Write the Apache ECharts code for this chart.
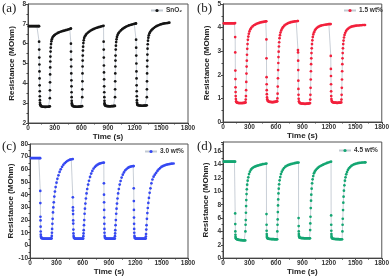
<!DOCTYPE html>
<html>
<head>
<meta charset="utf-8">
<script src="https://cdn.jsdelivr.net/npm/echarts@6/dist/echarts.min.js"></script>
<style>html,body{margin:0;padding:0;background:#fff}#c{width:392px;height:277px}</style>
</head>
<body>
<div id="c"></div>
<script>
// Series names (legend) and panel labels
var seriesNames = ['SnO\u2082', '1.5 wt%', '3.0 wt%', '4.5 wt%'];
var panelLabels = ['(a)', '(b)', '(c)', '(d)'];
var xTicks = [0, 300, 600, 900, 1200, 1500, 1800];
var yRanges = [[2, 8, 1], [0, 5, 1], [-10, 80, 10], [0, 17.4, 2]];

// (a) SnO2  [time s, resistance MOhm]
var sno2Data = [
[10,6.88],[20,6.88],[30,6.88],[40,6.88],[50,6.88],[60,6.88],[70,6.88],[80,6.88],[90,6.88],[100,6.88],[110,6.88],[120,6.88],[124,6.88],
[125,6.1],[126,5.7],[127,5.3],[128,4.95],[129,4.6],[130,4.25],[131,3.9],[132,3.6],[133,3.35],[134,3.15],[135,3.02],[137,2.94],[140,2.9],[145,2.86],[150,2.84],[160,2.83],[170,2.82],[180,2.82],[190,2.81],[200,2.81],[210,2.82],[220,2.82],[230,2.82],[240,2.83],[245,2.84],
[246,3.25],[247,3.65],[248,4.05],[249,4.45],[250,4.8],[251,5.1],[252,5.35],[254,5.6],[256,5.8],[259,5.98],[263,6.12],[268,6.22],[275,6.3],[285,6.37],[295,6.42],[305,6.46],[320,6.5],[335,6.54],[350,6.57],[365,6.6],[380,6.62],[395,6.64],[410,6.66],[425,6.68],[440,6.7],[455,6.72],[470,6.74],[481,6.76],
[482,6.76],[483,6.0],[484,5.6],[485,5.2],[486,4.85],[487,4.5],[488,4.15],[489,3.85],[490,3.55],[491,3.3],[492,3.12],[493,3.0],[495,2.93],[498,2.89],[503,2.86],[510,2.84],[520,2.83],[530,2.83],[540,2.82],[550,2.82],[560,2.82],[570,2.83],[580,2.83],[590,2.83],[600,2.84],[609,2.85],
[610,3.3],[611,3.7],[612,4.1],[613,4.5],[614,4.85],[615,5.15],[616,5.4],[618,5.65],[620,5.85],[623,6.03],[627,6.17],[632,6.28],[640,6.37],[650,6.44],[660,6.5],[675,6.56],[690,6.61],[705,6.66],[720,6.7],[735,6.73],[750,6.76],[765,6.79],[780,6.81],[795,6.83],[810,6.85],[825,6.87],[840,6.89],[850,6.9],
[851,6.1],[852,5.7],[853,5.3],[854,4.9],[855,4.55],[856,4.2],[857,3.85],[858,3.55],[859,3.3],[860,3.12],[861,3.0],[863,2.94],[866,2.9],[871,2.87],[878,2.86],[890,2.85],[900,2.85],[910,2.84],[920,2.84],[930,2.84],[940,2.85],[950,2.85],[960,2.85],[970,2.86],[978,2.86],
[979,3.3],[980,3.7],[981,4.1],[982,4.5],[983,4.85],[984,5.15],[985,5.4],[987,5.7],[989,5.9],[992,6.08],[996,6.22],[1001,6.34],[1008,6.44],[1018,6.53],[1030,6.6],[1045,6.67],[1060,6.73],[1075,6.78],[1090,6.82],[1105,6.86],[1120,6.89],[1135,6.92],[1150,6.94],[1165,6.96],[1180,6.98],[1195,7.0],[1210,7.01],[1215,7.02],
[1216,6.2],[1217,5.8],[1218,5.4],[1219,5.0],[1220,4.6],[1221,4.25],[1222,3.9],[1223,3.6],[1224,3.35],[1225,3.15],[1226,3.03],[1228,2.96],[1231,2.92],[1236,2.9],[1243,2.89],[1255,2.88],[1265,2.88],[1275,2.87],[1285,2.87],[1295,2.87],[1305,2.88],[1315,2.88],[1325,2.88],[1336,2.89],
[1337,3.3],[1338,3.7],[1339,4.1],[1340,4.5],[1341,4.85],[1342,5.15],[1343,5.45],[1345,5.75],[1347,5.97],[1350,6.15],[1354,6.3],[1359,6.42],[1366,6.52],[1375,6.6],[1387,6.67],[1400,6.73],[1415,6.79],[1430,6.84],[1445,6.88],[1460,6.91],[1475,6.94],[1490,6.97],[1505,6.99],[1520,7.01],[1535,7.02],[1550,7.03],[1565,7.04],[1580,7.05],[1590,7.06]
];

// (b) 1.5 wt%
var wt15Data = [
[10,4.18],[20,4.18],[30,4.18],[40,4.18],[50,4.18],[60,4.18],[70,4.18],[80,4.18],[90,4.18],[100,4.18],[110,4.18],[120,4.18],[130,4.18],[137,4.19],
[138,3.6],[139,2.95],[140,2.18],[141,1.82],[142,1.47],[143,1.27],[144,1.1],[146,0.97],[149,0.88],[153,0.84],[160,0.82],[170,0.81],[180,0.8],[190,0.8],[200,0.8],[210,0.8],[220,0.8],[230,0.81],[240,0.81],[250,0.82],[256,0.83],
[258,0.95],[260,1.1],[262,1.35],[264,1.7],[266,2.05],[268,2.35],[270,2.6],[272,2.85],[275,3.1],[278,3.3],[282,3.48],[287,3.62],[293,3.74],[300,3.84],[310,3.93],[320,3.99],[335,4.05],[350,4.1],[365,4.13],[380,4.16],[395,4.18],[410,4.2],[425,4.22],[440,4.23],[455,4.24],[470,4.25],[485,4.26],[491,4.27],
[492,3.5],[493,2.7],[494,1.9],[495,1.6],[496,1.35],[497,1.18],[499,1.04],[502,0.96],[506,0.91],[512,0.88],[520,0.86],[530,0.85],[540,0.85],[550,0.84],[560,0.84],[570,0.84],[580,0.85],[590,0.85],[600,0.86],[610,0.87],[615,0.88],
[617,1.0],[619,1.2],[621,1.5],[623,1.85],[625,2.2],[627,2.5],[629,2.75],[631,2.98],[634,3.2],[637,3.38],[641,3.55],[646,3.68],[652,3.79],[660,3.88],[670,3.96],[680,4.02],[695,4.08],[710,4.13],[725,4.16],[740,4.19],[755,4.21],[770,4.23],[785,4.24],[800,4.25],[815,4.26],[830,4.27],[845,4.28],[849,4.28],
[850,3.05],[851,2.95],[852,2.6],[853,2.2],[854,1.75],[855,1.4],[856,1.15],[858,0.98],[861,0.88],[865,0.83],[872,0.8],[880,0.79],[890,0.78],[900,0.78],[910,0.78],[920,0.77],[930,0.77],[940,0.77],[950,0.78],[960,0.78],[970,0.78],[980,0.79],[987,0.8],
[989,0.95],[991,1.15],[993,1.45],[995,1.8],[997,2.15],[999,2.45],[1001,2.7],[1003,2.92],[1006,3.12],[1009,3.3],[1013,3.46],[1018,3.6],[1024,3.71],[1032,3.8],[1042,3.88],[1052,3.94],[1065,3.99],[1080,4.03],[1095,4.06],[1110,4.08],[1125,4.1],[1140,4.11],[1155,4.12],[1170,4.13],[1185,4.14],[1200,4.15],[1210,4.15],[1221,4.15],
[1222,2.8],[1223,2.25],[1224,1.95],[1225,1.6],[1226,1.3],[1227,1.1],[1229,0.97],[1232,0.9],[1236,0.86],[1243,0.84],[1250,0.83],[1260,0.82],[1270,0.82],[1280,0.82],[1290,0.81],[1300,0.81],[1310,0.82],[1320,0.82],[1330,0.82],[1341,0.83],
[1343,0.95],[1345,1.15],[1347,1.45],[1349,1.8],[1351,2.15],[1353,2.45],[1355,2.7],[1357,2.92],[1360,3.12],[1363,3.3],[1367,3.45],[1372,3.58],[1378,3.69],[1386,3.78],[1396,3.86],[1408,3.92],[1420,3.96],[1435,4.0],[1450,4.03],[1465,4.05],[1480,4.06],[1495,4.07],[1510,4.08],[1525,4.09],[1540,4.09],[1555,4.1],[1570,4.1],[1585,4.11],[1600,4.11],[1610,4.11]
];

// (c) 3.0 wt%
var wt30Data = [
[10,68.9],[20,68.9],[30,68.9],[40,68.9],[50,68.9],[60,68.9],[70,68.9],[80,68.9],[90,68.9],[100,68.9],[110,68.9],[116,68.8],
[117,43],[118,33.4],[119,22.6],[120,19.7],[121,14.8],[122,11],[123,8.5],[125,7],[128,6.2],[133,5.7],[140,5.5],[150,5.4],[160,5.3],[170,5.3],[180,5.3],[190,5.3],[200,5.3],[210,5.3],[220,5.3],[230,5.3],[240,5.4],[246,5.5],
[248,7.5],[250,10],[252,13],[255,17],[258,21],[262,26],[266,30],[271,34],[277,38.5],[284,42.5],[292,46],[302,49.5],[312,52.5],[324,55.3],[337,58],[350,60],[365,62],[380,63.6],[395,64.8],[410,65.8],[425,66.6],[440,67.2],[455,67.6],[470,67.9],[487,68.1],
[488,37.9],[489,30],[490,27.5],[491,24.7],[492,19.7],[493,17.2],[494,12.5],[495,9.5],[497,7.5],[500,6.3],[505,5.7],[512,5.4],[520,5.3],[530,5.3],[540,5.3],[550,5.3],[560,5.3],[570,5.3],[580,5.3],[590,5.3],[600,5.3],[606,5.4],
[608,7.3],[610,9.5],[612,12],[615,16],[618,20],[622,25],[626,29],[631,33],[637,37],[644,41],[652,44.5],[662,48],[672,51],[684,54],[697,56.7],[710,58.8],[725,60.6],[740,61.9],[755,62.9],[770,63.7],[785,64.3],[800,64.7],[815,65],[830,65.2],[841,65.3],
[842,49],[843,40],[844,34],[845,28],[846,22],[847,17],[848,13],[849,10],[851,7.5],[854,6.3],[858,5.7],[864,5.4],[872,5.3],[880,5.3],[890,5.3],[900,5.3],[910,5.3],[920,5.3],[930,5.3],[940,5.3],[950,5.3],[960,5.3],[966,5.4],
[968,7.3],[970,9.5],[972,12],[975,16],[978,20],[982,25],[986,29],[991,33],[997,37],[1004,41],[1012,44.5],[1022,48],[1032,50.8],[1044,53.5],[1057,55.8],[1070,57.6],[1085,59.2],[1100,60.3],[1115,61.1],[1130,61.7],[1145,62.1],[1160,62.4],[1175,62.6],[1181,62.6],
[1182,45],[1183,35],[1184,28],[1185,22],[1186,17],[1187,13],[1188,10],[1190,7.5],[1193,6.3],[1197,5.7],[1203,5.4],[1210,5.3],[1220,5.3],[1230,5.3],[1240,5.3],[1250,5.3],[1260,5.3],[1270,5.3],[1280,5.3],[1290,5.3],[1300,5.3],[1310,5.3],[1318,5.4],
[1320,7],[1322,9],[1325,12.5],[1328,16],[1332,21],[1337,25.5],[1342,29.5],[1348,33.5],[1355,37.5],[1363,41.5],[1372,45],[1383,49],[1395,52],[1408,54.2],[1422,55.8],[1437,57.3],[1452,58.8],[1467,60],[1482,61],[1497,61.9],[1512,62.5],[1527,63],[1542,63.4],[1557,63.7],[1572,64],[1587,64.2],[1602,64.4],[1617,64.5],[1636,64.6]
];

// (d) 4.5 wt%
var wt45Data = [
[10,14.45],[20,14.45],[30,14.45],[40,14.45],[50,14.45],[60,14.45],[70,14.45],[80,14.45],[90,14.45],[100,14.45],[110,14.45],[120,14.45],[130,14.45],[137,14.45],
[138,6.7],[139,5.1],[140,4.0],[141,3.5],[142,3.2],[144,3.0],[147,2.92],[152,2.86],[160,2.8],[170,2.76],[180,2.73],[190,2.71],[200,2.69],[210,2.68],[220,2.67],[230,2.66],[240,2.65],[252,2.65],
[254,4],[256,5],[258,5.7],[260,6.8],[262,7.8],[264,8.7],[267,9.6],[270,10.3],[274,11],[280,11.6],[287,12.1],[295,12.6],[305,12.95],[317,13.25],[330,13.45],[345,13.6],[360,13.7],[375,13.78],[390,13.85],[405,13.9],[420,13.96],[435,14.02],[450,14.07],[465,14.1],[480,14.14],[492,14.17],
[493,6.6],[494,5.0],[495,4.1],[496,3.6],[497,3.3],[499,3.1],[502,3.0],[507,2.95],[515,2.9],[525,2.88],[535,2.86],[545,2.85],[555,2.84],[565,2.83],[575,2.83],[585,2.82],[595,2.82],[605,2.82],[614,2.82],
[616,4],[618,5],[620,5.8],[622,6.9],[624,7.9],[626,8.8],[629,9.7],[632,10.4],[636,11.05],[642,11.65],[649,12.15],[657,12.6],[667,12.95],[679,13.25],[692,13.5],[707,13.7],[722,13.83],[737,13.93],[752,14.0],[767,14.07],[782,14.13],[797,14.18],[812,14.22],[827,14.26],[842,14.3],[856,14.32],
[857,6.0],[858,4.8],[859,4.0],[860,3.6],[861,3.35],[863,3.2],[866,3.1],[871,3.05],[880,3.02],[890,3.0],[900,2.99],[910,2.98],[920,2.97],[930,2.97],[940,2.96],[950,2.96],[960,2.96],[970,2.96],[980,2.96],[986,2.97],
[988,4.2],[990,5.2],[992,6.2],[995,7.5],[998,8.6],[1001,9.5],[1005,10.4],[1010,11.2],[1016,11.8],[1023,12.3],[1031,12.7],[1040,12.95],[1050,13.15],[1062,13.35],[1075,13.52],[1090,13.68],[1105,13.8],[1120,13.9],[1135,14.0],[1150,14.1],[1165,14.18],[1180,14.26],[1195,14.33],[1210,14.4],[1225,14.45],
[1226,6.4],[1227,5.0],[1228,4.1],[1229,3.6],[1230,3.3],[1232,3.1],[1235,3.0],[1240,2.93],[1248,2.9],[1258,2.88],[1268,2.86],[1278,2.85],[1288,2.84],[1298,2.83],[1308,2.83],[1318,2.82],[1328,2.82],[1338,2.82],[1350,2.82],
[1354,4],[1356,5],[1358,5.9],[1361,7.2],[1364,8.3],[1367,9.2],[1371,10.1],[1376,10.9],[1382,11.6],[1389,12.1],[1397,12.55],[1406,12.9],[1416,13.2],[1428,13.45],[1441,13.65],[1455,13.82],[1470,13.95],[1485,14.05],[1500,14.12],[1515,14.18],[1530,14.22],[1545,14.26],[1560,14.29],[1575,14.31],[1590,14.33],[1605,14.34],[1615,14.35]
];

var allData = [sno2Data, wt15Data, wt30Data, wt45Data];
var colors = ['#151515', '#f2203c', '#3548f2', '#14a672'];

var grids = [
  {left: 28, top: 4, width: 160, height: 119},
  {left: 223, top: 4, width: 161, height: 118},
  {left: 30, top: 144, width: 158, height: 116},
  {left: 223, top: 142, width: 161, height: 118}
];
var legendPos = [
  {left: 150, top: 7}, {left: 343, top: 7}, {left: 144, top: 148}, {left: 338, top: 147}
];
var labelPos = [[2, 2], [197, 2], [2, 140], [197, 140]];

function plainNum(v) { return String(v); }

var xAxes = [], yAxes = [], series = [], legends = [], graphics = [];
for (var i = 0; i < 4; i++) {
  xAxes.push({
    type: 'value', gridIndex: i, min: xTicks[0], max: xTicks[xTicks.length - 1], interval: 300,
    name: 'Time (s)', nameLocation: 'middle', nameGap: 9,
    nameTextStyle: {fontSize: 8, fontWeight: 'bold', color: '#222', fontFamily: 'Liberation Sans'},
    axisLine: {show: true, onZero: false, lineStyle: {color: '#444', width: 1}},
    axisTick: {show: true, inside: false, length: 2, lineStyle: {color: '#444'}},
    minorTick: {show: true, splitNumber: 2, length: 1.5, lineStyle: {color: '#444'}},
    axisLabel: {fontSize: 6.5, fontWeight: 'bold', color: '#333', margin: 2, fontFamily: 'Liberation Sans', formatter: plainNum},
    splitLine: {show: false}
  });
  var r = yRanges[i];
  yAxes.push({
    type: 'value', gridIndex: i, min: r[0], max: r[1], interval: r[2],
    name: 'Resistance (MOhm)', nameLocation: 'middle', nameGap: 12,
    nameTextStyle: {fontSize: 8, fontWeight: 'bold', color: '#222', fontFamily: 'Liberation Sans'},
    axisLine: {show: true, onZero: false, lineStyle: {color: '#444', width: 1}},
    axisTick: {show: true, inside: false, length: 2, lineStyle: {color: '#444'}},
    minorTick: {show: true, splitNumber: 2, length: 1.5, lineStyle: {color: '#444'}},
    axisLabel: {fontSize: 6.5, fontWeight: 'bold', color: '#333', margin: 2, showMaxLabel: i !== 3, fontFamily: 'Liberation Sans', formatter: plainNum},
    splitLine: {show: false}
  });
  series.push({
    name: seriesNames[i], type: 'line', xAxisIndex: i, yAxisIndex: i,
    data: allData[i], showAllSymbol: true, symbol: 'circle', symbolSize: 2.7,
    itemStyle: {color: colors[i]},
    lineStyle: {color: '#c3cad2', width: 0.9},
    emphasis: {disabled: true}
  });
  legends.push({
    data: [seriesNames[i]], left: legendPos[i].left, top: legendPos[i].top,
    itemWidth: 12, itemHeight: 4, itemGap: 2, padding: 0,
    textStyle: {fontSize: 6.5, fontWeight: 'bold', color: '#333', fontFamily: 'Liberation Sans', padding: [0,0,0,-2]}
  });
  graphics.push({
    type: 'text', left: labelPos[i][0], top: labelPos[i][1],
    style: {text: panelLabels[i], font: '13px "Liberation Serif"', fill: '#222'}
  });
}

var grid4 = grids.map(function (g) {
  return {left: g.left, top: g.top, width: g.width, height: g.height, show: true, borderColor: '#555', borderWidth: 1, backgroundColor: 'transparent'};
});

var chart = echarts.init(document.getElementById('c'), null, {renderer: 'canvas'});
chart.setOption({
  animation: false,
  backgroundColor: '#fff',
  grid: grid4,
  xAxis: xAxes,
  yAxis: yAxes,
  legend: legends,
  series: series,
  graphic: graphics
});
</script>
</body>
</html>
